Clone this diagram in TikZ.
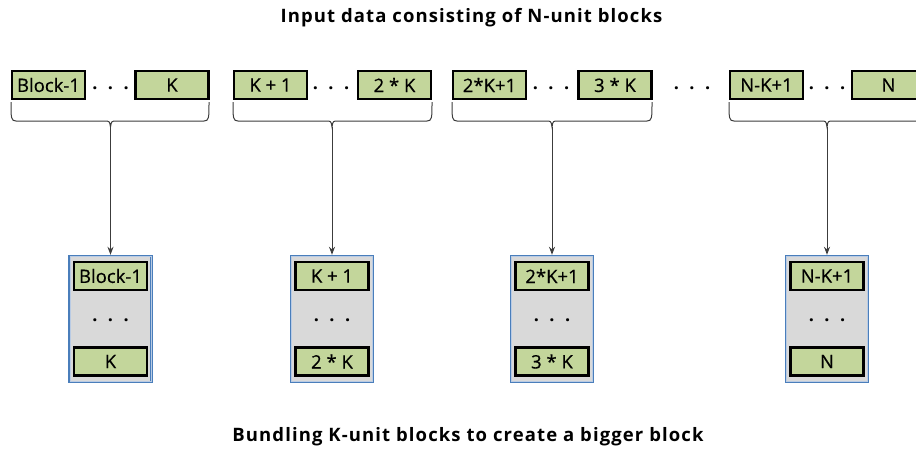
\documentclass[tikz,border=0pt]{standalone}
\usepackage{fontspec}
\setmainfont{Open Sans}
\usetikzlibrary{arrows.meta}
\definecolor{cellgreen}{HTML}{C3D69B}
\definecolor{bundlegray}{HTML}{D9D9D9}
\definecolor{bundleblue}{HTML}{4A7EBB}
\definecolor{bundleinner}{HTML}{B9CBE4}
\definecolor{linkgray}{HTML}{3C3C3C}
\tikzset{
  cell/.style={draw=black, line width=2.2pt, fill=cellgreen, minimum width=73pt,
    minimum height=28pt, inner sep=0pt,
    font=\fontsize{18.5}{20}\selectfont\addfontfeatures{FakeBold=0.5}},
  bundle/.style={draw=bundleblue, line width=2.4pt, fill=bundlegray,
    minimum width=82pt, minimum height=126pt, inner sep=0pt},
  ellip/.style={inner sep=0pt, font=\fontsize{18}{20}\selectfont\bfseries},
  title/.style={font=\fontsize{18.5}{20}\selectfont\bfseries\addfontfeatures{LetterSpace=6}},
  brace/.style={draw=linkgray, line width=1pt},
  link/.style={draw=linkgray, line width=1pt, -{Stealth[length=8pt,width=6pt]}}
}
\newcommand{\threedots}{.\hspace{10.5pt}.\hspace{10.5pt}.}
% a square bracket with rounded corners and a small tip in the middle
\newcommand{\groupbrace}[4]{%
  \draw[brace] (#1,102) .. controls (#1,118) and (#1,121) .. (#1+5,121)
    -- (#3-6,121) .. controls (#3-1,121) .. (#3,127)
    .. controls (#3+1,121) .. (#3+6,121) -- (#2-5,121)
    .. controls (#2,121) and (#2,118) .. (#2,102);
  \coordinate (#4) at (#3,127);}
\begin{document}
\begin{tikzpicture}[x=1pt,y=-1pt]
\useasboundingbox (0,0) rectangle (916,450);

\node[title] (top) at (471.5,18) {Input data consisting of N-unit blocks};
\node[title] (bottom) at (468,437) {Bundling K-unit blocks to create a bigger block};

% input row
\node[cell] (t1a) at (48.5,85) {Block-1};
\node[cell] (t1b) at (172,85) {K};
\node[cell] (t2a) at (270.5,85) {K + 1};
\node[cell] (t2b) at (394.5,85) {2 * K};
\node[cell] (t3a) at (489.5,85) {2*K+1};
\node[cell] (t3b) at (615,85) {3 * K};
\node[cell] (t4a) at (766.5,85) {N-K+1};
\node[cell] (t4b) at (888.5,85) {N};

\node[ellip] (d1) at (110.5,88) {\threedots};
\node[ellip] (d2) at (331,88) {\threedots};
\node[ellip] (d3) at (551,88) {\threedots};
\node[ellip] (d34) at (692,88) {\threedots};
\node[ellip] (d4) at (827,88) {\threedots};

% braces under each group of K blocks
\groupbrace{11}{209}{110.5}{g1}
\groupbrace{233}{432}{332}{g2}
\groupbrace{452}{652}{552}{g3}
\groupbrace{729}{926}{827}{g4}

% bundled blocks
\foreach \i/\x/\a/\b in {1/110.5/Block-1/K, 2/332/K + 1/2 * K, 3/552/2*K+1/3 * K, 4/827/N-K+1/N}{
  \node[bundle] (b\i) at (\x,319) {};
  \draw[bundleinner, line width=0.8pt] ([shift={(1.8,-1.8)}]b\i.south west) rectangle ([shift={(-1.8,1.8)}]b\i.north east);
  \node[cell] (b\i a) at (\x,276) {\a};
  \node[cell] (b\i b) at (\x,361.5) {\b};
  \node[ellip] (b\i d) at (\x,320) {\threedots};
  \draw[link] (g\i) -- (b\i.north);
}
\end{tikzpicture}
\end{document}
